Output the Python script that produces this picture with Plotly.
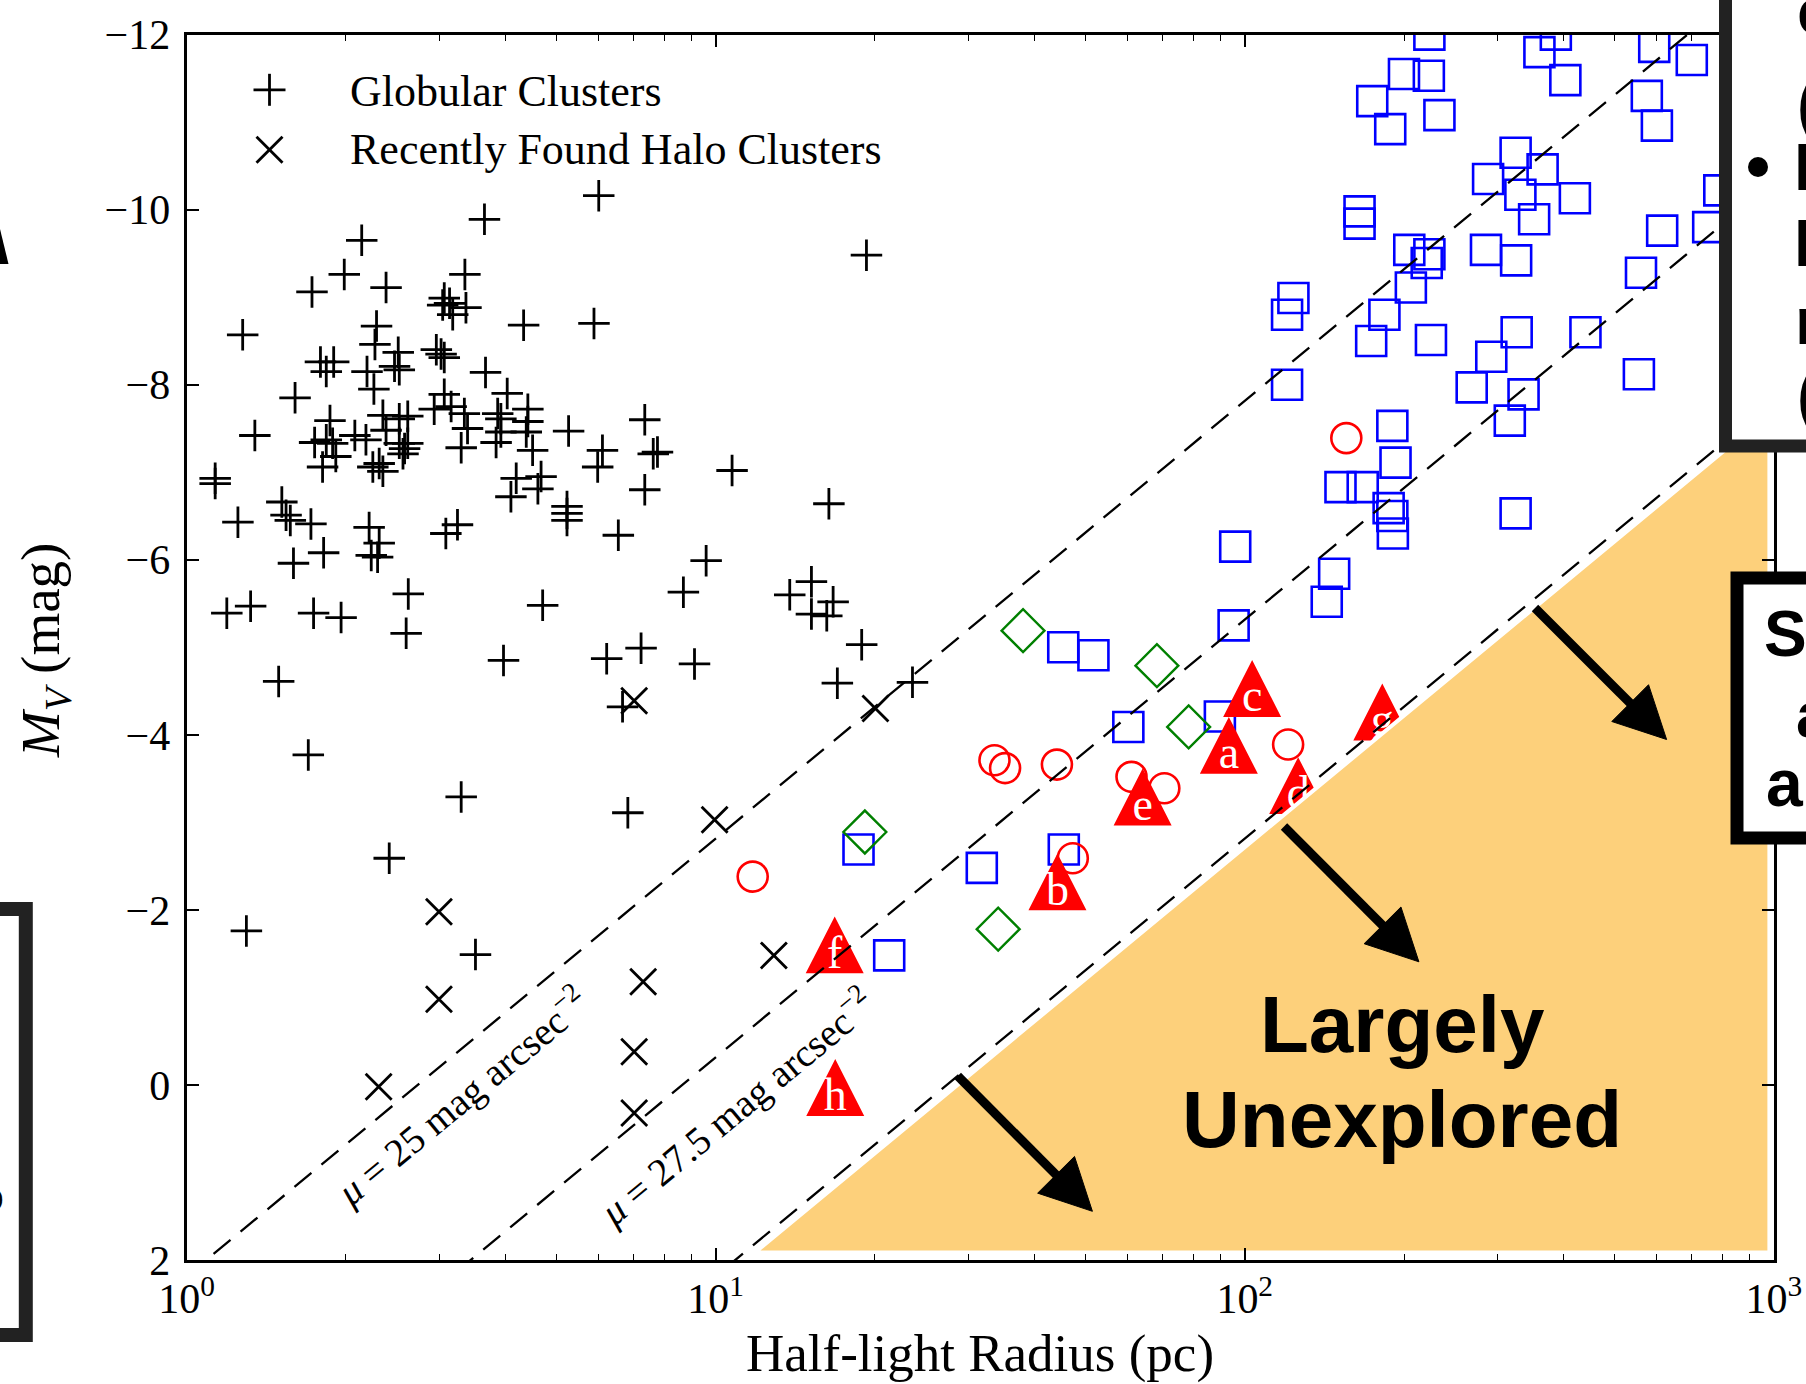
import numpy as np
import plotly.graph_objects as go

# ---------------- data ----------------
# Globular clusters: log10(half-light radius / pc) and M_V
gc_log_r = [0.779, 0.563, 0.331, 0.298, 0.237, 0.377, 0.526, 0.487, 0.497, 0.503,
            0.528, 0.484, 0.637, 0.770, 0.106, 0.359, 0.356, 0.400, 0.402, 0.393,
            0.472, 0.481, 0.487, 0.565, 0.253, 0.278, 0.264, 0.341, 0.354, 0.205,
            0.606, 0.645, 0.645, 0.642, 0.129, 0.271, 0.487, 0.468, 0.500, 0.525,
            0.531, 0.519, 0.371, 0.377, 0.402, 0.418, 0.318, 0.242, 0.264, 0.276,
            0.282, 0.257, 0.339, 0.352, 0.364, 0.371, 0.402, 0.412, 0.418, 0.409,
            0.588, 0.594, 0.594, 0.585, 0.722, 0.786, 0.777, 0.654, 0.866, 0.882,
            0.890, 0.866, 0.054, 0.054, 0.623, 0.670, 0.664, 0.613, 0.719, 0.719,
            0.719, 0.816, 0.180, 0.188, 0.196, 0.235, 0.097, 0.345, 0.364, 0.361,
            0.349, 0.512, 0.490, 0.259, 0.202, 0.419, 0.673, 0.076, 0.121, 0.240,
            0.292, 0.415, 0.174, 0.599, 0.794, 0.859, 0.824, 0.230, 0.519, 0.834,
            0.383, 0.113, 0.546, 1.285, 1.031, 1.214, 0.982, 0.939, 1.140, 1.181,
            1.222, 1.181, 1.210, 1.276, 0.960, 1.230, 1.372]
gc_mv = [-10.16, -9.89, -9.65, -9.26, -9.06, -9.11, -9.26, -8.99, -8.93, -8.80,
         -8.88, -8.91, -8.68, -8.70, -8.57, -8.67, -8.46, -8.37, -8.17, -8.21,
         -8.40, -8.35, -8.31, -8.14, -8.26, -8.26, -8.15, -8.15, -7.95, -7.85,
         -7.90, -7.72, -7.58, -7.46, -7.42, -7.59, -7.89, -7.72, -7.75, -7.67,
         -7.50, -7.28, -7.65, -7.48, -7.61, -7.64, -7.42, -7.34, -7.37, -7.33,
         -7.18, -7.06, -7.37, -7.06, -7.10, -7.01, -7.33, -7.27, -7.33, -7.21,
         -7.67, -7.61, -7.46, -7.34, -7.47, -7.25, -7.06, -7.25, -7.60, -7.21,
         -7.23, -6.80, -6.93, -6.87, -6.93, -6.95, -6.81, -6.72, -6.61, -6.53,
         -6.45, -6.28, -6.66, -6.51, -6.45, -6.41, -6.43, -6.37, -6.19, -6.03,
         -6.05, -6.40, -6.30, -6.08, -5.96, -5.61, -5.48, -5.39, -5.47, -5.39,
         -5.34, -5.16, -4.61, -4.85, -4.87, -4.99, -4.32, -3.77, -3.29, -3.11,
         -2.59, -1.76, -1.49, -9.48, -7.02, -6.64, -5.99, -5.63, -5.60, -5.75,
         -5.52, -5.38, -5.36, -5.03, -4.81, -4.59, -4.60]

# Recently found halo clusters
halo_log_r = [0.363, 0.477, 0.477, 0.846, 0.863, 0.846, 0.846, 0.998, 1.110, 1.302]
halo_mv = [0.02, -1.98, -0.98, -4.39, -1.18, -0.38, 0.32, -3.03, -1.48, -4.30]

# Blue open squares
sq_log_r = [2.349, 2.557, 2.588, 2.774, 2.845, 2.301, 2.348, 2.241, 2.275, 2.368,
            2.606, 2.760, 2.779, 2.512, 2.563, 2.460, 2.521, 2.624, 2.547, 2.217,
            2.217, 2.789, 2.897, 2.876, 2.311, 2.349, 2.344, 2.456, 2.513, 2.749,
            2.314, 2.092, 2.080, 2.264, 2.239, 2.352, 2.514, 2.466, 2.429, 2.527,
            2.644, 2.745, 2.501, 2.080, 2.279, 2.285, 2.181, 2.223, 2.272, 2.279,
            2.280, 2.512, 1.982, 2.169, 2.155, 1.979, 1.780, 1.953, 1.714, 1.657,
            1.270, 1.328, 1.503, 1.658]
sq_mv = [-12.0, -11.80, -12.0, -11.86, -11.71, -11.55, -11.53, -11.24, -10.92, -11.08,
         -11.48, -11.30, -10.96, -10.65, -10.46, -10.35, -10.17, -10.13, -9.89, -9.98,
         -9.84, -9.76, -10.22, -9.80, -9.54, -9.49, -9.39, -9.54, -9.42, -9.28,
         -9.11, -8.99, -8.80, -8.80, -8.50, -8.51, -8.60, -8.32, -7.97, -7.89,
         -8.60, -8.12, -7.59, -8.00, -7.53, -7.11, -6.83, -6.83, -6.59, -6.50,
         -6.30, -6.53, -6.15, -5.84, -5.52, -5.25, -4.09, -4.21, -4.91, -5.00,
         -2.69, -1.48, -2.48, -2.69]

# Red open circles
circ_log_r = [1.070, 1.527, 1.547, 1.645, 1.675, 1.786, 1.848, 2.082, 2.192]
circ_mv = [-2.38, -3.71, -3.62, -3.66, -2.59, -3.52, -3.39, -3.89, -7.39]

# Green open diamonds
dia_log_r = [1.581, 1.834, 1.894, 1.282, 1.534]
dia_mv = [-5.19, -4.79, -4.09, -2.89, -1.78]

# Labelled red triangles
tri_labels = ['a', 'b', 'c', 'd', 'e', 'f', 'g', 'h']
tri_log_r = [1.970, 1.646, 2.014, 2.101, 1.807, 1.225, 2.260, 1.226]
tri_mv = [-3.88, -2.32, -4.53, -3.42, -3.29, -1.60, -4.26, 0.03]

# Surface-brightness lines (mag arcsec^-2) and zero point
mu_lines = [25.0, 27.5, 30.0]
mu_label_text = ['25', '27.5']
unexplored_mu = 30.1
SB_ZP = 22.815

x_tick_vals = [1, 10, 100, 1000]
x_tick_text = ['10<sup>0</sup>', '10<sup>1</sup>', '10<sup>2</sup>', '10<sup>3</sup>']
y_tick_vals = [-12, -10, -8, -6, -4, -2, 0, 2]
y_tick_text = ['\u221212', '\u221210', '\u22128', '\u22126', '\u22124', '\u22122', '0', '2']

# ---------------- layout geometry (pixels) ----------------
W, H = 1806, 1384
X0, X1 = 186.6, 1773.8
Y0, Y1 = 34.6, 1260.0


def px(x):
    return x / W


def py(y):
    return 1 - y / H


SERIF = 'Liberation Serif'
SANS = 'Liberation Sans'

fig = go.Figure()

# globular clusters
fig.add_trace(go.Scatter(
    x=10 ** np.array(gc_log_r), y=gc_mv, mode='markers', name='Globular Clusters',
    marker=dict(symbol='cross-thin', size=22.5, color='black',
                line=dict(width=2.8, color='black')),
    showlegend=False))
# halo clusters
fig.add_trace(go.Scatter(
    x=10 ** np.array(halo_log_r), y=halo_mv, mode='markers', name='Recently Found Halo Clusters',
    marker=dict(symbol='x-thin', size=26, color='black',
                line=dict(width=2.8, color='black')),
    showlegend=False))
# squares
fig.add_trace(go.Scatter(
    x=10 ** np.array(sq_log_r), y=sq_mv, mode='markers', name='squares',
    marker=dict(symbol='square-open', size=30, color='#0000ff',
                line=dict(width=2.6, color='#0000ff')),
    showlegend=False))
# circles
fig.add_trace(go.Scatter(
    x=10 ** np.array(circ_log_r), y=circ_mv, mode='markers', name='circles',
    marker=dict(symbol='circle-open', size=30, color='#ff0000',
                line=dict(width=2.6, color='#ff0000')),
    showlegend=False))
# diamonds
fig.add_trace(go.Scatter(
    x=10 ** np.array(dia_log_r), y=dia_mv, mode='markers', name='diamonds',
    marker=dict(symbol='diamond-open', size=33, color='#008000',
                line=dict(width=2.4, color='#008000')),
    showlegend=False))

# triangles (drawn as filled polygons in data space)
TRI_HW = 0.0548   # half width in decades
TRI_HH = 0.325    # half height in mag
tx, ty = [], []
for lr, m in zip(tri_log_r, tri_mv):
    tx += [10 ** (lr - TRI_HW), 10 ** (lr + TRI_HW), 10 ** lr, 10 ** (lr - TRI_HW), None]
    ty += [m + TRI_HH, m + TRI_HH, m - TRI_HH, m + TRI_HH, None]
fig.add_trace(go.Scatter(x=tx, y=ty, mode='lines', fill='toself', fillcolor='#ff0000',
                         line=dict(width=0, color='#ff0000'), showlegend=False,
                         hoverinfo='skip'))
fig.add_trace(go.Scatter(
    x=10 ** np.array(tri_log_r), y=np.array(tri_mv) + 0.13, mode='text', text=tri_labels,
    textposition='middle center',
    textfont=dict(family=SERIF, size=46, color='white'), showlegend=False))

# surface brightness dashed lines
r_line = np.array([1.0, 1000.0])
for mu in mu_lines:
    fig.add_trace(go.Scatter(
        x=r_line, y=mu - SB_ZP - 5 * np.log10(r_line), mode='lines',
        line=dict(color='black', width=2.3, dash='22px,13px'),
        showlegend=False, hoverinfo='skip'))

# largely unexplored region
M_bottom, r_right = 1.913, 981.0
r_bottom = 10 ** ((unexplored_mu - SB_ZP - M_bottom) / 5)
M_top = unexplored_mu - SB_ZP - 5 * np.log10(r_right)
fig.add_trace(go.Scatter(
    x=[r_bottom, r_right, r_right, r_bottom], y=[M_bottom, M_top, M_bottom, M_bottom],
    mode='lines', fill='toself', fillcolor='#fdd07b',
    line=dict(color='white', width=4), showlegend=False, hoverinfo='skip'))

axis_common = dict(showline=True, linewidth=3, linecolor='black', mirror='ticks',
                   ticks='inside', tickcolor='black', tickwidth=2, ticklen=12,
                   showgrid=False, zeroline=False, automargin=False,
                   tickfont=dict(family=SERIF, size=42, color='black'))

minor_vals = [m * 10 ** k for k in range(3) for m in range(2, 10)]
fig.update_xaxes(type='log', range=[0, 3], domain=[px(X0), px(X1)],
                 tickmode='array', tickvals=x_tick_vals, ticktext=x_tick_text,
                 ticklabelstandoff=0,
                 minor=dict(ticks='inside', ticklen=6, tickwidth=1.3, tickcolor='black',
                            tickmode='array', tickvals=minor_vals, showgrid=False),
                 **axis_common)
fig.update_yaxes(range=[2, -12], domain=[py(Y1), py(Y0)],
                 tickmode='array', tickvals=y_tick_vals, ticktext=y_tick_text,
                 ticklabelstandoff=5, **axis_common)

shapes = []


def arrow(tail, tip, width=9, head_len=51.5, head_hw=26):
    t = np.array(tail, float)
    p = np.array(tip, float)
    d = (p - t) / np.linalg.norm(p - t)
    n = np.array([-d[1], d[0]])
    b = p - head_len * d
    e = b + 3 * d
    shapes.append(dict(type='line', xref='paper', yref='paper',
                       x0=px(t[0]), y0=py(t[1]), x1=px(e[0]), y1=py(e[1]),
                       line=dict(color='black', width=width), layer='above'))
    c1 = b + head_hw * n
    c2 = b - head_hw * n
    path = 'M {},{} L {},{} L {},{} Z'.format(px(p[0]), py(p[1]), px(c1[0]), py(c1[1]),
                                             px(c2[0]), py(c2[1]))
    shapes.append(dict(type='path', xref='paper', yref='paper', path=path,
                       fillcolor='black', line=dict(color='black', width=1), layer='above'))


arrow((957.8, 1076.0), (1092.4, 1211.3))
arrow((1284.0, 826.5), (1418.9, 961.8))
arrow((1535.0, 608.0), (1666.6, 739.5))

# legend glyphs
lx, ly1, ly2 = 269.5, 89.8, 149.7
shapes.append(dict(type='line', xref='paper', yref='paper', x0=px(lx - 16), x1=px(lx + 16),
                   y0=py(ly1), y1=py(ly1), line=dict(color='black', width=2.8)))
shapes.append(dict(type='line', xref='paper', yref='paper', x0=px(lx), x1=px(lx),
                   y0=py(ly1 - 16), y1=py(ly1 + 16), line=dict(color='black', width=2.8)))
shapes.append(dict(type='line', xref='paper', yref='paper', x0=px(lx - 13), x1=px(lx + 13),
                   y0=py(ly2 - 13), y1=py(ly2 + 13), line=dict(color='black', width=2.8)))
shapes.append(dict(type='line', xref='paper', yref='paper', x0=px(lx - 13), x1=px(lx + 13),
                   y0=py(ly2 + 13), y1=py(ly2 - 13), line=dict(color='black', width=2.8)))

# slide boxes around the chart (partially visible)
shapes.append(dict(type='rect', xref='paper', yref='paper', x0=px(1725.5), x1=px(1950),
                   y0=py(446), y1=py(-60), fillcolor='white',
                   line=dict(color='#222222', width=13), layer='above'))
shapes.append(dict(type='rect', xref='paper', yref='paper', x0=px(1737), x1=px(1950),
                   y0=py(838), y1=py(578), fillcolor='white',
                   line=dict(color='black', width=13), layer='above'))
shapes.append(dict(type='rect', xref='paper', yref='paper', x0=px(-120), x1=px(25.8),
                   y0=py(1335), y1=py(909), fillcolor='white',
                   line=dict(color='#222222', width=14), layer='above'))
shapes.append(dict(type='circle', xref='paper', yref='paper', x0=px(1748), x1=px(1768),
                   y0=py(177), y1=py(157), fillcolor='black', line=dict(width=0),
                   layer='above'))
shapes.append(dict(type='path', xref='paper', yref='paper',
                   path='M {},{} L {},{} L {},{} Z'.format(px(0), py(229), px(8.5), py(264),
                                                          px(0), py(264)),
                   fillcolor='black', line=dict(width=0), layer='above'))

annotations = []


def text(s, x, baseline, size, family=SERIF, xanchor='center', color='black', angle=0,
         k=0.3375, yc=None):
    annotations.append(dict(
        text=s, xref='paper', yref='paper', x=px(x),
        y=py(yc if yc is not None else baseline - k * size),
        xanchor=xanchor, yanchor='middle', showarrow=False, textangle=angle,
        font=dict(family=family, size=size, color=color)))


# legend labels
text('Globular Clusters', 348, 106, 44, xanchor='left')
text('Recently Found Halo Clusters', 348, 164.7, 44, xanchor='left')

# axis titles
text('Half-light Radius (pc)', 980, 1371, 53)
annotations.append(dict(text='<i>M</i><sub><i>V</i></sub> (mag)', xref='paper', yref='paper',
                        x=px(44), y=py(651), xanchor='center', yanchor='middle',
                        showarrow=False, textangle=-90,
                        font=dict(family=SERIF, size=55, color='black')))

# surface-brightness labels
for lab, (cx, cy) in zip(mu_label_text, [(461, 1095), (735, 1106)]):
    annotations.append(dict(text='<i>\u03bc</i> = ' + lab + ' mag arcsec<sup>\u22122</sup>',
                            xref='paper', yref='paper', x=px(cx), y=py(cy),
                            xanchor='center', yanchor='middle', showarrow=False,
                            textangle=-39.6, font=dict(family=SERIF, size=39, color='black')))

# region label
text('<b>Largely</b>', 1402, 1052, 80, family=SANS, k=0.3465)
text('<b>Unexplored</b>', 1402, 1147, 80, family=SANS, k=0.3465)

# partial slide text at the right edge
for s, xl, base in [('c', 1795, 34), ('(', 1795, 127), ('D', 1792, 190),
                    ('D', 1792, 266), ('r', 1793, 344), ('(', 1795, 418)]:
    text('<b>' + s + '</b>', xl, base, 66, family=SANS, xanchor='left', k=0.3465)
for s, xl, base, size in [('S', 1762, 656, 64), ('a', 1794, 737, 64), ('a', 1764, 806, 66)]:
    text('<b>' + s + '</b>', xl, base, size, family=SANS, xanchor='left', k=0.3465)
# partial glyph inside the left slide box
text('<b>o</b>', 6, 1212, 44, family=SANS, xanchor='right', k=0.3465)

fig.update_layout(
    width=W, height=H, margin=dict(l=0, r=0, t=0, b=0, pad=0, autoexpand=False),
    paper_bgcolor='white', plot_bgcolor='white', showlegend=False,
    font=dict(family=SERIF, color='black'),
    shapes=shapes, annotations=annotations)

fig.write_html('out.html', config={'displayModeBar': False})
